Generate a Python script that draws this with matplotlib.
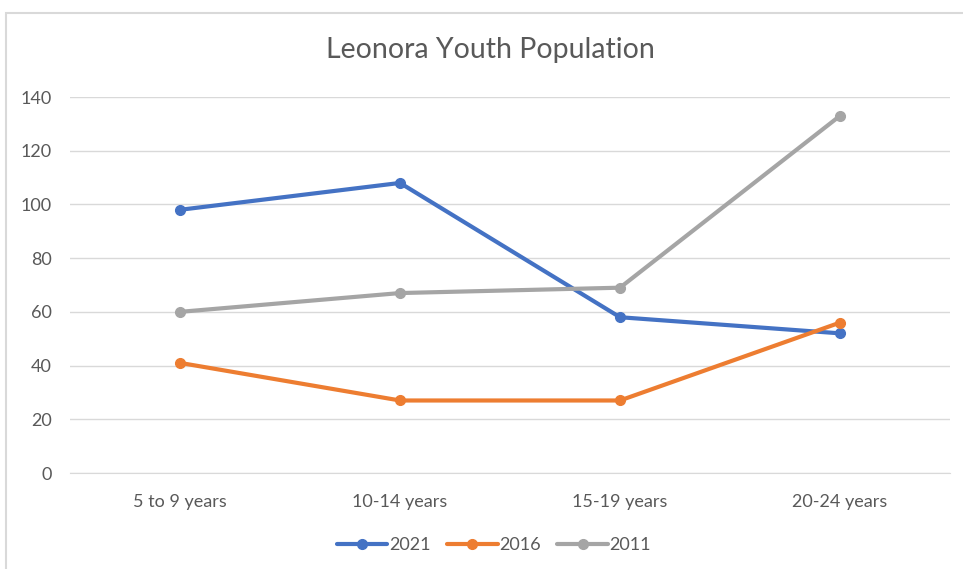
import matplotlib
matplotlib.use("Agg")
import matplotlib.pyplot as plt
from matplotlib.patches import Rectangle

categories = ["5 to 9 years", "10-14 years", "15-19 years", "20-24 years"]
pop_2021 = [98, 108, 58, 52]
pop_2016 = [41, 27, 27, 56]
pop_2011 = [60, 67, 69, 133]
y_ticks = [0, 20, 40, 60, 80, 100, 120, 140]

series = [
    ("2021", pop_2021, "#4472C4"),
    ("2016", pop_2016, "#ED7D31"),
    ("2011", pop_2011, "#A5A5A5"),
]

W, H, dpi = 963, 569, 100
plt.rcParams["font.family"] = ["Lato", "DejaVu Sans"]

fig = plt.figure(figsize=(W / dpi, H / dpi), dpi=dpi)
fig.patch.set_facecolor("white")

# chart frame (runs off the right and bottom edges)
fig.patches.append(Rectangle((6 / W, -0.1), 1.2, 1 - 12.5 / H + 0.1,
                             transform=fig.transFigure, fill=False,
                             edgecolor="#D9D9D9", linewidth=1.5))

ax = fig.add_axes([70 / W, (H - 473) / H, 880 / W, (473 - 97) / H])

x = list(range(len(categories)))
for name, vals, col in series:
    ax.plot(x, vals, color=col, linewidth=3, marker="o", markersize=7,
            solid_capstyle="round", label=name)

ax.set_xlim(-0.5, len(categories) - 0.5)
ax.set_ylim(0, 140)
ax.set_yticks(y_ticks)
ax.set_xticks(x)
ax.set_xticklabels(categories)
ax.grid(axis="y", color="#D9D9D9", linewidth=1)
ax.set_axisbelow(True)
for s in ["top", "right", "left"]:
    ax.spines[s].set_visible(False)
ax.spines["bottom"].set_color("#D9D9D9")
ax.tick_params(length=0, labelsize=13, labelcolor="#595959")
ax.tick_params(axis="y", pad=13)
ax.tick_params(axis="x", pad=15)

fig.text(490 / W, 1 - 50 / H, "Leonora Youth Population", ha="center",
         va="center", fontsize=20.5, color="#595959")

fig.legend(loc="center", bbox_to_anchor=(494 / W, 1 - 545 / H), ncol=3,
           frameon=False, fontsize=13, labelcolor="#595959",
           handlelength=2.8, handletextpad=0.1, columnspacing=0.9)

fig.savefig("out.png", dpi=dpi)
